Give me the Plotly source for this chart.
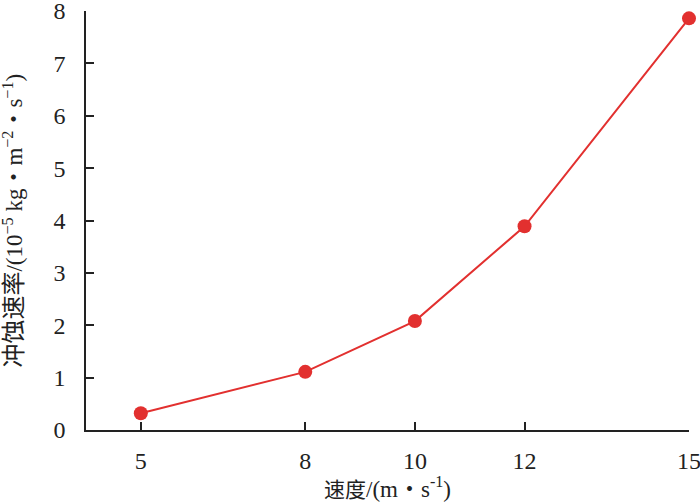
import plotly.graph_objects as go

speed = [5, 8, 10, 12, 15]
erosion_rate = [0.32, 1.11, 2.08, 3.89, 7.86]
x_ticks = [5, 8, 10, 12, 15]
y_ticks = [0, 1, 2, 3, 4, 5, 6, 7, 8]

red = "#e2302f"
serif = "Liberation Serif, Times New Roman, Noto Sans CJK SC, serif"

fig = go.Figure(
    go.Scatter(
        x=speed,
        y=erosion_rate,
        mode="lines+markers",
        line=dict(color=red, width=2),
        marker=dict(color=red, size=14),
        cliponaxis=False,
        showlegend=False,
    )
)

axis_style = dict(
    ticks="inside",
    ticklen=8,
    tickwidth=1.5,
    tickcolor="#222",
    showline=True,
    linecolor="#222",
    linewidth=1.5,
    showgrid=False,
    zeroline=False,
    automargin=False,
    ticklabeloverflow="allow",
    tickfont=dict(size=24),
)

y_title = (
    '<span style="font-size:24px">冲蚀速率</span>'
    "/(10<sup>−5</sup> kg・m<sup>−2</sup>・s<sup>−1</sup>)"
)
x_title = '<span style="font-size:21px">速度</span>/(m・s<sup>-1</sup>)'

fig.update_layout(
    width=700,
    height=504,
    paper_bgcolor="white",
    plot_bgcolor="white",
    margin=dict(l=86, r=11, t=11, b=74),
    font=dict(family=serif, size=23, color="#222"),
    xaxis=dict(range=[4, 15], tickvals=x_ticks, ticklabelstandoff=8, **axis_style),
    yaxis=dict(range=[0, 8], tickvals=y_ticks, ticklabelstandoff=14, **axis_style),
    annotations=[
        dict(
            text=x_title,
            xref="paper", yref="paper",
            x=0.5, y=-0.098,
            xanchor="center", yanchor="top",
            showarrow=False,
        ),
        dict(
            text=y_title,
            xref="paper", yref="paper",
            x=-0.121, y=0.5,
            xanchor="center", yanchor="middle",
            textangle=-90,
            showarrow=False,
        ),
    ],
)

# drop the default body margin so the figure sits at the page corner
fig.write_html(
    "out.html",
    config={"displayModeBar": False},
    post_script="document.body.style.margin = '0';",
)
